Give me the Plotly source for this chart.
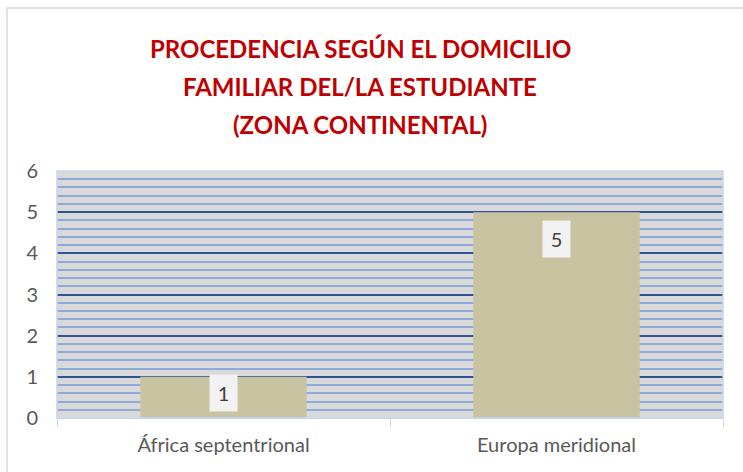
import plotly.graph_objects as go

categories = ["África septentrional", "Europa meridional"]
values = [1, 5]
y_ticks = [0, 1, 2, 3, 4, 5, 6]
title_lines = ["PROCEDENCIA SEGÚN EL DOMICILIO", "FAMILIAR DEL/LA ESTUDIANTE", "(ZONA CONTINENTAL)"]

W, H = 743, 472
L, R, T, B = 57, 20, 171, 54
plot_h = H - T - B
y_max = 6

fig = go.Figure()
fig.add_trace(go.Bar(
    x=categories, y=values, width=0.5,
    marker=dict(color="#c8c3a0", line=dict(width=0)),
    hoverinfo="x+y",
))

# data labels (inside end, clamped to bar centre when bar is short)
for c, v in zip(categories, values):
    bar_px = v / y_max * plot_h
    if bar_px > 60:
        fig.add_annotation(x=c, y=v, yanchor="top", yshift=-8)
    else:
        fig.add_annotation(x=c, y=v / 2, yanchor="middle", yshift=4)
    fig.layout.annotations[-1].update(
        xref="x", yref="y", text=str(v), showarrow=False,
        bgcolor="#f2f2f2", borderpad=6, width=15, height=24,
        font=dict(family="Lato", size=20, color="#404040"),
    )

# title lines
for line, ypix in zip(title_lines, [48, 86, 124]):
    fig.add_annotation(
        text="<b>" + line + "</b>", xref="paper", yref="paper",
        x=(360 - L) / (W - L - R), y=(H - B - ypix) / plot_h,
        xanchor="center", yanchor="middle", showarrow=False,
        font=dict(family="Lato", size=24, color="#c00000"),
    )

fig.update_layout(
    width=W, height=H,
    margin=dict(l=L, r=R, t=T, b=B, autoexpand=False),
    paper_bgcolor="white", plot_bgcolor="#d9d9d9",
    showlegend=False,
    xaxis=dict(
        showgrid=False, showline=True, linecolor="#d9d9d9", linewidth=1,
        ticks="outside", tickson="boundaries", ticklen=8, tickcolor="#d9d9d9",
        tickfont=dict(family="Lato", size=20, color="#595959"),
        ticklabelstandoff=9,
    ),
    yaxis=dict(
        range=[0, y_max], tickvals=y_ticks, showgrid=True,
        gridcolor="#2f5496", gridwidth=1.5, zeroline=False,
        minor=dict(dtick=0.2, showgrid=True, gridcolor="#8eaadb", gridwidth=1.5),
        tickfont=dict(family="Lato", size=20, color="#595959"),
        ticks="", ticklabelstandoff=18,
    ),
    shapes=[
        dict(type="rect", xref="paper", yref="paper", x0=0, x1=1, y0=0, y1=1,
             line=dict(color="#c5d5ef", width=1.5), layer="above"),
        dict(type="rect", xref="paper", yref="paper",
             x0=(7 - L) / (W - L - R), x1=1.1, y0=-0.5, y1=(H - B - 8) / plot_h,
             line=dict(color="#d9d9d9", width=1.5), layer="above"),
    ],
)

fig.write_html("out.html", config={"displayModeBar": False},
               post_script="document.body.style.margin='0';")
